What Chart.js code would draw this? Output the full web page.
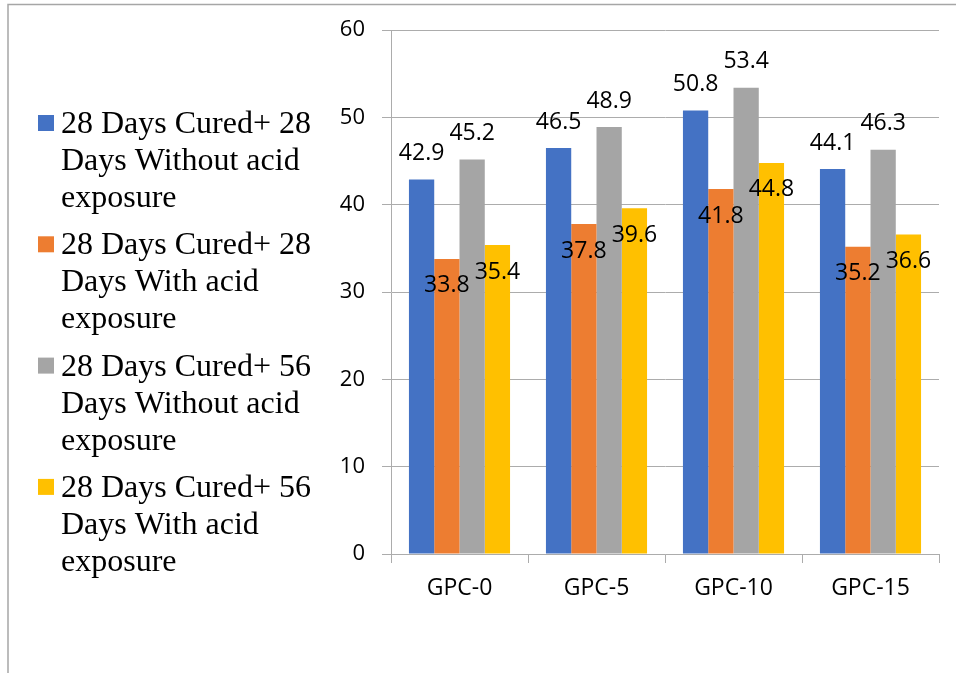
<!DOCTYPE html>
<html lang="en">
<head>
    <meta charset="UTF-8">
    <title>GPC bar chart</title>
    <script src="https://cdn.jsdelivr.net/npm/chart.js"></script>
    <style>
        body { margin: 0; background: #fff; }
        canvas { display: block; }
    </style>
</head>
<body>
    <canvas id="gpcChart" width="956" height="673"></canvas>

    <script>
        // data
        const categories = ['GPC-0', 'GPC-5', 'GPC-10', 'GPC-15'];
        const seriesNames = [
            '28 Days Cured+ 28 Days Without acid exposure',
            '28 Days Cured+ 28 Days With acid exposure',
            '28 Days Cured+ 56 Days Without acid exposure',
            '28 Days Cured+ 56 Days With acid exposure'
        ];
        const cured28Without = [42.9, 46.5, 50.8, 44.1];
        const cured28With = [33.8, 37.8, 41.8, 35.2];
        const cured56Without = [45.2, 48.9, 53.4, 46.3];
        const cured56With = [35.4, 39.6, 44.8, 36.6];
        const yTicks = [0, 10, 20, 30, 40, 50, 60];

        const colors = ['#4472C4', '#ED7D31', '#A5A5A5', '#FFC000'];
        const gridColor = '#acacac';

        // outer frame (top + left line of the figure box)
        const framePlugin = {
            id: 'frame',
            beforeDraw(chart) {
                const ctx = chart.ctx;
                ctx.save();
                ctx.strokeStyle = '#a6a6a6';
                ctx.lineWidth = 1.5;
                ctx.beginPath();
                ctx.moveTo(8, 673);
                ctx.lineTo(8, 4.5);
                ctx.lineTo(956, 4.5);
                ctx.stroke();
                ctx.restore();
            }
        };

        // legend on the left, wrapped like the original
        const sideLegend = {
            id: 'sideLegend',
            afterDraw(chart) {
                const ctx = chart.ctx;
                ctx.save();
                ctx.font = '32px "Liberation Serif", "Times New Roman", serif';
                ctx.textBaseline = 'alphabetic';
                chart.data.datasets.forEach((ds, i) => {
                    const words = ds.label.split(' ');
                    const lines = [];
                    let cur = '';
                    words.forEach(w => {
                        const test = cur ? cur + ' ' + w : w;
                        if (ctx.measureText(test).width > 255 && cur) {
                            lines.push(cur);
                            cur = w;
                        } else {
                            cur = test;
                        }
                    });
                    lines.push(cur);
                    const base = 133 + i * 121.3;
                    ctx.fillStyle = ds.backgroundColor;
                    ctx.fillRect(38, base - 18, 16, 16);
                    ctx.fillStyle = '#000';
                    lines.forEach((ln, k) => ctx.fillText(ln, 61, base + k * 37));
                });
                ctx.restore();
            }
        };

        // value labels: blue/gray above the bar, orange/yellow just inside the top
        const valueLabels = {
            id: 'valueLabels',
            afterDatasetsDraw(chart) {
                const ctx = chart.ctx;
                const offsets = [-26, 27, -26, 27];
                ctx.save();
                ctx.font = '23px "Open Sans", sans-serif';
                ctx.fillStyle = '#000';
                ctx.textAlign = 'center';
                ctx.textBaseline = 'middle';
                chart.data.datasets.forEach((ds, i) => {
                    chart.getDatasetMeta(i).data.forEach((bar, j) => {
                        ctx.fillText(ds.data[j].toFixed(1), bar.x, bar.y + offsets[i]);
                    });
                });
                ctx.restore();
            }
        };

        const dataArrays = [cured28Without, cured28With, cured56Without, cured56With];

        new Chart(document.getElementById('gpcChart'), {
            type: 'bar',
            data: {
                labels: categories,
                datasets: dataArrays.map((d, i) => ({
                    label: seriesNames[i],
                    data: d,
                    backgroundColor: colors[i],
                    borderWidth: 0,
                    barPercentage: 1,
                    categoryPercentage: 0.738
                }))
            },
            options: {
                responsive: false,
                animation: false,
                layout: {
                    padding: { left: 320, top: 30, right: 17, bottom: 69 }
                },
                plugins: {
                    legend: { display: false },
                    tooltip: { enabled: false }
                },
                scales: {
                    x: {
                        grid: {
                            drawOnChartArea: false,
                            offset: true,
                            tickLength: 9,
                            color: gridColor
                        },
                        border: { color: gridColor },
                        ticks: {
                            font: { family: 'Open Sans', size: 23 },
                            color: '#000',
                            padding: 12
                        },
                        afterFit(scale) { scale.height = 50; }
                    },
                    y: {
                        min: yTicks[0],
                        max: yTicks[yTicks.length - 1],
                        afterBuildTicks(scale) {
                            scale.ticks = yTicks.map(v => ({ value: v }));
                        },
                        grid: {
                            color: gridColor,
                            tickLength: 9
                        },
                        border: { color: gridColor },
                        ticks: {
                            font: { family: 'Open Sans', size: 22 },
                            color: '#000',
                            padding: 17
                        },
                        afterFit(scale) { scale.width = 71; }
                    }
                }
            },
            plugins: [framePlugin, sideLegend, valueLabels]
        });
    </script>
</body>
</html>
